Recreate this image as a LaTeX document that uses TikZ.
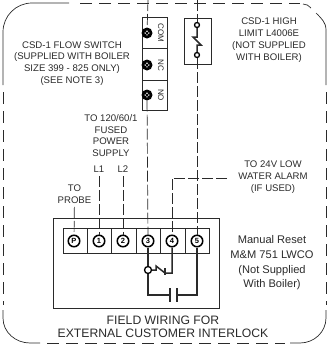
\documentclass[tikz,border=0pt]{standalone}
\usepackage{fontspec}
\setmainfont{Liberation Sans}
\definecolor{ink}{HTML}{2A2A2A}
\tikzset{
  wire/.style={draw=ink,line width=0.7pt,dash pattern=on 11pt off 3pt},
  bus/.style={draw=ink,line width=1.5pt,line join=miter},
  thin box/.style={draw=ink,line width=0.7pt},
  edge line/.style={draw=ink,line width=0.7pt,dash pattern=on 12pt off 7pt},
  terminal/.style={circle,draw=black,line width=1.5pt,fill=white,inner sep=0pt,minimum size=11.5pt,font=\fontsize{7.5}{8}\selectfont\bfseries},
  screw/.style={circle,fill=black,inner sep=0pt,minimum size=11pt},
  post/.style={circle,draw=black,line width=1.3pt,fill=white,inner sep=0pt,minimum size=5pt},
  label/.style={align=center,text=ink,font=\fontsize{9.6}{11.8}\selectfont},
  side/.style={rotate=-90,text=ink,font=\fontsize{8}{9}\selectfont}
}
\newcommand{\screwdots}[1]{\fill[white] (#1)+(-1.8,0) circle (0.8) +(1.8,0) circle (0.8) +(0,-1.8) circle (0.8) +(0,1.8) circle (0.8);}

\begin{document}
\begin{tikzpicture}[x=1pt,y=-1pt]
    \useasboundingbox (0,0) rectangle (327,349);
    % outline
    \draw [draw=ink,line width=0.7pt] (3,85) -- (3,32) to[out=90,in=180] (32,3) -- (69,3);
    \draw [edge line] (80,3) -- (300,3);
    \draw [draw=ink,line width=0.7pt] (303,4) to[out=0,in=135] (311,8);
    \draw [draw=ink,line width=0.7pt] (316,13) to[out=-45,in=90] (326,30) -- (326,85);
    \draw [edge line] (3,92) -- (3,305);
    \draw [edge line] (326,92) -- (326,305);
    \draw [draw=ink,line width=0.7pt] (3,310) -- (3,318) to[out=-90,in=180] (30,343) -- (40,343);
    \draw [edge line] (47,343) -- (285,343);
    \draw [draw=ink,line width=0.7pt] (290,343) -- (300,343) to[out=0,in=-90] (326,318) -- (326,310);
    % flow switch
    \draw [thin box] (142,17) rectangle (167,110);
    \draw [thin box] (142,48) -- (167,48);
    \draw [thin box] (142,80) -- (167,80);
    \node [screw] (COM) at (147,33) {};
    \node [screw] (NC) at (147,65) {};
    \node [screw] (NO) at (147,95) {};
    \screwdots{COM} \screwdots{NC} \screwdots{NO}
    \node [side] at (161,33) {COM};
    \node [side] at (161,65) {NC};
    \node [side] at (161,95) {NO};
    % high limit
    \draw [thin box] (184,18) rectangle (211,64);
    \node [post] (HA) at (197,25) {};
    \node [post] (HB) at (197,55) {};
    \draw [bus] (HA) -- (197,37) -- (193,37) -- (201,45) -- (197,45) -- (HB);
    % lwco
    \draw [thin box] (53,218) rectangle (219,308);
    \draw [thin box] (63,228) rectangle (209,253);
    \draw [thin box] (87,228) -- (87,253);
    \draw [thin box] (111,228) -- (111,253);
    \draw [thin box] (136,228) -- (136,253);
    \draw [thin box] (160,228) -- (160,253);
    \draw [thin box] (185,228) -- (185,253);
    \node [terminal] (P) at (74,241) {P};
    \node [terminal] (T1) at (99,241) {1};
    \node [terminal] (T2) at (123,241) {2};
    \node [terminal] (T3) at (148,241) {3};
    \node [terminal] (T4) at (172,241) {4};
    \node [terminal] (T5) at (197,241) {5};
    % labels
    \node [label] at (72,63.5) {CSD-1 FLOW SWITCH\\(SUPPLIED WITH BOILER\\SIZE 399 - 825 ONLY)\\(SEE NOTE 3)};
    \node [label] at (269,40) {CSD-1 HIGH\\LIMIT L4006E\\(NOT SUPPLIED\\WITH BOILER)};
    \node [label] (SUPPLY) at (111,135.5) {TO 120/60/1\\FUSED\\POWER\\SUPPLY};
    \node [label] (L1) at (99,169) {L1};
    \node [label] (L2) at (123,169) {L2};
    \node [label] (PROBE) at (74.5,194) {TO\\PROBE};
    \node [label] (ALARM) at (273,177) {TO 24V LOW\\WATER ALARM\\(IF USED)};
    \node [label,font=\fontsize{11.1}{14.7}\selectfont] at (272,263) {Manual Reset\\M\&M 751 LWCO\\(Not Supplied\\With Boiler)};
    \node [label,font=\fontsize{12.2}{13}\selectfont] at (163,326.5) {FIELD WIRING FOR\\EXTERNAL CUSTOMER INTERLOCK};
    % field wires
    \coordinate (TOPA) at (148,0);
    \coordinate (TOPB) at (197,0);
    \coordinate (A) at (227,178);
    \draw [wire] (TOPA) -- (COM);
    \draw [wire] (TOPB) -- (HA);
    \draw [wire] (NO) -- (T3);
    \draw [wire] (HB) -- (T5);
    \draw [wire] (L1) -- (T1);
    \draw [wire] (L2) -- (T2);
    \draw [wire] (PROBE) -- (P);
    \draw [wire] (A) -| (T4);
    % contacts
    \node [post,minimum size=7pt] (JOIN) at (148,270) {};
    \coordinate (CAPA) at (170,295);
    \coordinate (CAPB) at (177,295);
    \draw [bus] (T3) -- (JOIN);
    \draw [bus] (JOIN) -- (156,270) -- (156,266) -- (165,273) -- (172,273) -- (T4);
    \draw [bus] (165,268) -- (165,275);
    \draw [bus] (JOIN) |- (CAPA);
    \draw [bus] (T5) |- (CAPB);
    \draw [bus] (170,288) -- (170,302);
    \draw [bus] (177,288) -- (177,302);
\end{tikzpicture}
\end{document}
